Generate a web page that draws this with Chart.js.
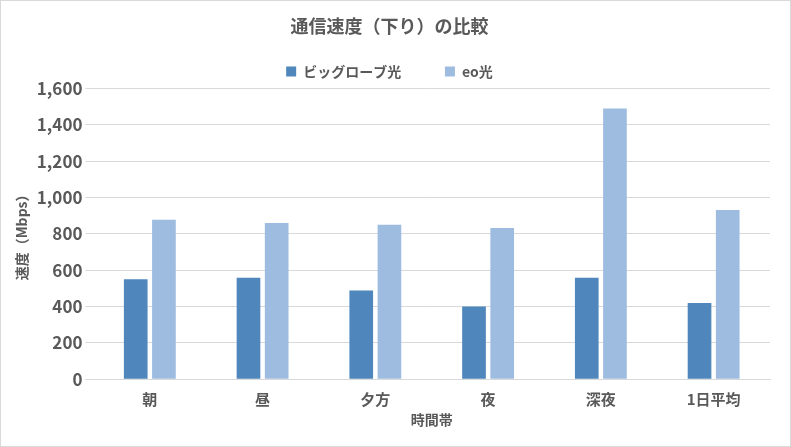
<!DOCTYPE html>
<html><head><meta charset="utf-8">
<script src="https://cdn.jsdelivr.net/npm/chart.js@4"></script>
<style>
html,body{margin:0;padding:0;background:#fff;}
#wrap{position:absolute;left:0;top:0;width:789px;height:445px;border:1px solid #d9d9d9;}
</style></head>
<body><div id="wrap"><canvas id="myChart" width="789" height="445"></canvas></div>
<script>
const categories = ['朝', '昼', '夕方', '夜', '深夜', '1日平均'];
const biglobe = [550, 558, 488, 400, 558, 420];
const eo = [878, 860, 850, 833, 1490, 932];

const font = "'Noto Sans CJK JP', 'Noto Sans', sans-serif";

const config = {
    type: 'bar',
    data: {
        labels: categories,
        datasets: [
            {label: 'ビッグローブ光          ', data: biglobe, backgroundColor: '#4f87bd', categoryPercentage: 0.5, barPercentage: 0.84},
            {label: 'eo光', data: eo, backgroundColor: '#9dbce0', categoryPercentage: 0.5, barPercentage: 0.84}
        ]
    },
    options: {
        responsive: false,
        animation: false,
        layout: {padding: {left: 8, right: 20, top: 0, bottom: 18}},
        plugins: {
            title: {
                display: true,
                text: '通信速度（下り）の比較',
                color: '#595959',
                font: {size: 18, weight: 'bold', family: font},
                padding: {top: 14, bottom: 16}
            },
            legend: {
                labels: {
                    color: '#595959',
                    font: {size: 14, weight: 'bold', family: font},
                    boxWidth: 10, boxHeight: 10,
                    padding: 12
                }
            },
            tooltip: {enabled: false}
        },
        scales: {
            x: {
                grid: {display: false},
                border: {color: '#d9d9d9'},
                ticks: {color: '#595959', font: {size: 15, weight: 'bold', family: font}},
                title: {display: true, text: '時間帯', color: '#595959', font: {size: 14, weight: 'bold', family: font}, padding: 0}
            },
            y: {
                min: 0, max: 1600,
                ticks: {stepSize: 200, color: '#595959', font: {size: 17, weight: 'bold', family: font}},
                grid: {color: '#d9d9d9'},
                border: {display: false},
                title: {display: true, text: '速度（Mbps）', color: '#595959', font: {size: 14, weight: 'bold', family: font}}
            }
        }
    }
};
new Chart(document.getElementById('myChart'), config);
</script></body></html>
